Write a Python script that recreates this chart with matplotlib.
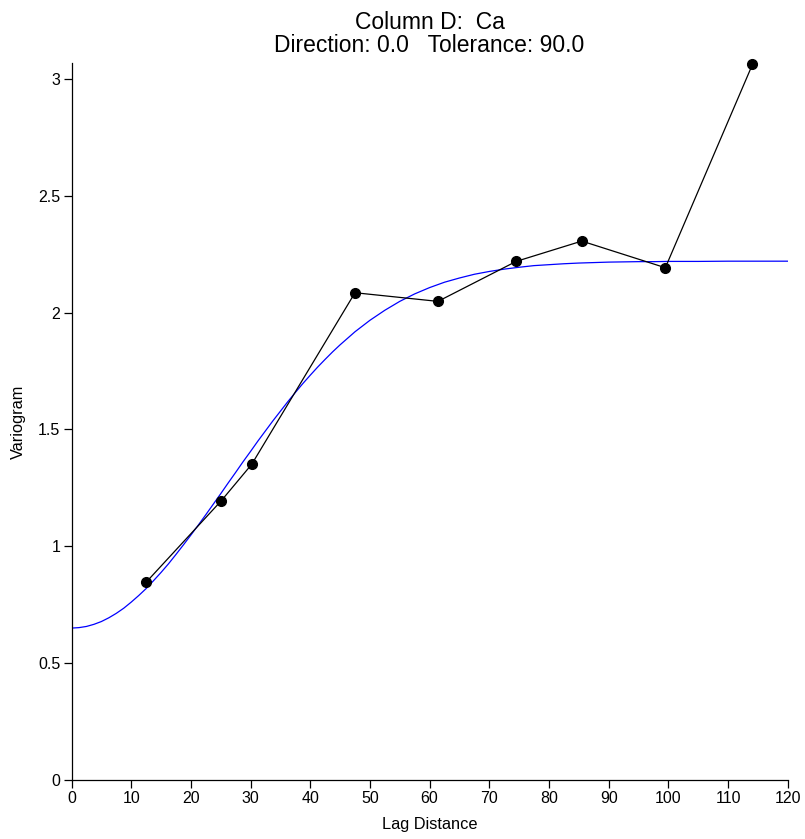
import matplotlib
matplotlib.use("Agg")
import matplotlib.pyplot as plt

plt.rcParams['font.family'] = ['Liberation Sans', 'DejaVu Sans']

# Experimental variogram points
lag = [12.5, 25.1, 30.2, 47.5, 61.4, 74.5, 85.5, 99.5, 114.1]
gamma = [0.846, 1.195, 1.351, 2.085, 2.048, 2.219, 2.306, 2.192, 3.062]

# Model curve
model_lag = [0, 1.25, 2.5, 3.75, 5, 6.25, 7.5, 8.75, 10, 11.25, 12.5, 13.75, 15, 16.25,
             17.5, 18.75, 20, 21.25, 22.5, 23.75, 25, 26.25, 27.5, 28.75, 30, 31.25,
             32.5, 33.75, 35, 36.25, 37.5, 38.75, 40, 41.25, 42.5, 43.75, 45, 47.5,
             50, 52.5, 55, 57.5, 60, 62.5, 65, 67.5, 70, 72.5, 75, 77.5, 80, 82.5,
             85, 87.5, 90, 92.5, 95, 97.5, 100, 105, 110, 115, 120]
model_gamma = [0.650, 0.652, 0.657, 0.666, 0.678, 0.694, 0.713, 0.735, 0.761, 0.789,
               0.819, 0.853, 0.888, 0.925, 0.965, 1.006, 1.048, 1.091, 1.135, 1.180,
               1.225, 1.271, 1.316, 1.362, 1.406, 1.451, 1.494, 1.537, 1.578, 1.619,
               1.658, 1.696, 1.732, 1.767, 1.800, 1.832, 1.862, 1.918,
               1.967, 2.010, 2.048, 2.080, 2.107, 2.130, 2.148, 2.164, 2.176, 2.186,
               2.194, 2.201, 2.205, 2.209, 2.212, 2.214, 2.216, 2.217, 2.218, 2.218,
               2.219, 2.219, 2.220, 2.220, 2.220]

x_ticks = [0, 10, 20, 30, 40, 50, 60, 70, 80, 90, 100, 110, 120]
y_ticks = [0, 0.5, 1, 1.5, 2, 2.5, 3]
y_tick_labels = ['0', '0.5', '1', '1.5', '2', '2.5', '3']

fig = plt.figure(figsize=(8.05, 8.39), dpi=100)
ax = fig.add_axes([71.5 / 805, 59 / 839, (787.7 - 71.5) / 805, (780 - 63) / 839])

ax.plot(model_lag, model_gamma, color='#0000ff', lw=0.9, zorder=2)
ax.plot(lag, gamma, color='black', lw=0.9, marker='o', markersize=7,
        markerfacecolor='black', markeredgecolor='black', zorder=3, clip_on=False)

ax.set_xlim(0, 120)
ax.set_ylim(0, 3.068)
ax.set_xticks(x_ticks)
ax.set_yticks(y_ticks)
ax.set_yticklabels(y_tick_labels)

for s in ['top', 'right']:
    ax.spines[s].set_visible(False)
for s in ['left', 'bottom']:
    ax.spines[s].set_linewidth(0.9)
ax.tick_params(direction='out', length=6, width=0.9, labelsize=11.5, pad=2)

ax.set_xlabel('Lag Distance', fontsize=11.8, labelpad=8)
ax.set_ylabel('Variogram', fontsize=11.8, labelpad=9)
ax.set_title('Column D:  Ca\nDirection: 0.0   Tolerance: 90.0', fontsize=16.5,
             linespacing=1.0, pad=8)

fig.savefig('out.png', dpi=100)
